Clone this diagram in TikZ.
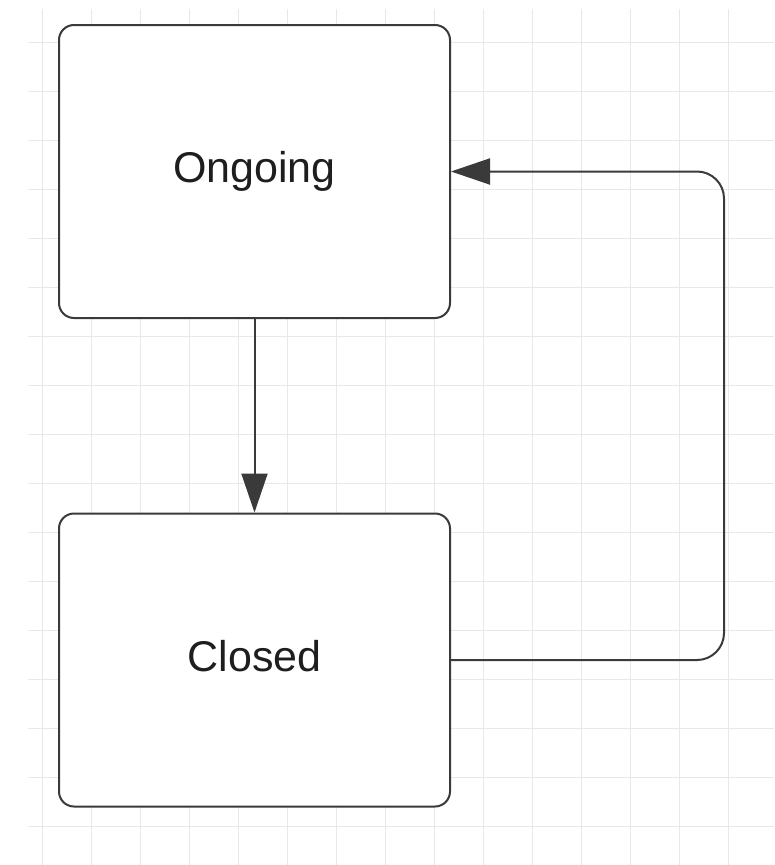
\documentclass[tikz,border=0pt]{standalone}
\usepackage{fontspec}
\setmainfont{Liberation Sans}
\usetikzlibrary{arrows.meta}
\definecolor{gridc}{HTML}{E8E8E8}
\definecolor{linec}{HTML}{3A3A3A}
\definecolor{textc}{HTML}{1E1E1E}
\tikzset{
  statebox/.style={draw=linec, line width=2pt, fill=white, rounded corners=15pt,
    minimum width=391pt, minimum height=293pt, inner sep=0pt,
    text height=31pt, text depth=9pt,
    text=textc, font=\fontsize{43}{50}\selectfont},
  conn/.style={draw=linec, line width=2pt, -{Triangle[length=39pt,width=26pt]}},
  gridline/.style={draw=gridc, line width=1pt}
}
\begin{document}
\begin{tikzpicture}[x=1pt,y=-1pt]
\useasboundingbox (0,0) rectangle (774,865);
\fill[white] (0,0) rectangle (774,865);
\foreach \k in {0,...,16} {
  \draw[gridline] (28,{42+49*\k}) -- (774,{42+49*\k});
}
\foreach \k in {0,...,14} {
  \draw[gridline] ({42+49*\k},9) -- ({42+49*\k},865);
}
\node[statebox] (ongoing) at (254.5,171.5) {Ongoing};
\node[statebox] (closed) at (254.5,660) {Closed};
\coordinate (rc) at (724,416);
\draw[conn] (ongoing.south) -- (closed.north);
\draw[conn, rounded corners=27pt] (closed.east) -- (closed.east -| rc) |- (ongoing.east);
\end{tikzpicture}
\end{document}
